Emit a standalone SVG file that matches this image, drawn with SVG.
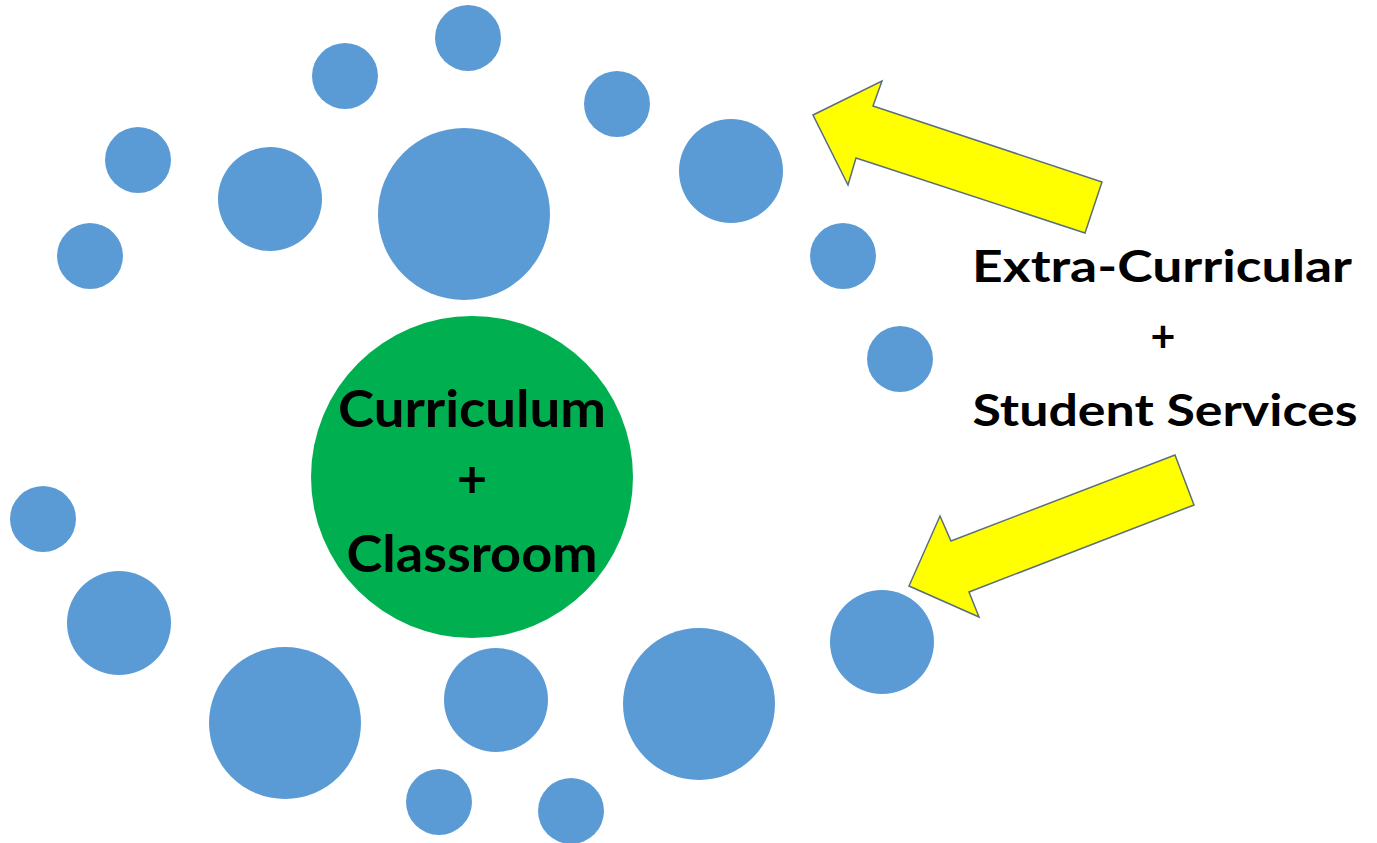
<svg xmlns="http://www.w3.org/2000/svg" width="1377" height="843" viewBox="0 0 1377 843">
<style>
.b{fill:#5B9BD5}
.arrow{fill:#FFFF00;stroke:#5A6E7E;stroke-width:1.5;stroke-linejoin:miter}
.t{font-family:Lato,"Open Sans","Liberation Sans",sans-serif;font-weight:bold;fill:#000;text-anchor:middle}
</style>
<rect width="1377" height="843" fill="#fff"/>
<g id="bubbles">
<circle id="b1" class="b" cx="468" cy="38" r="33"/>
<circle id="b2" class="b" cx="345" cy="76" r="33"/>
<circle id="b3" class="b" cx="138" cy="160" r="33"/>
<circle id="b4" class="b" cx="270" cy="199" r="52"/>
<circle id="b5" class="b" cx="464" cy="214" r="86"/>
<circle id="b6" class="b" cx="90" cy="256" r="33"/>
<circle id="b7" class="b" cx="617" cy="104" r="33"/>
<circle id="b8" class="b" cx="731" cy="171" r="52"/>
<circle id="b9" class="b" cx="843" cy="256" r="33"/>
<circle id="b10" class="b" cx="900" cy="359" r="33"/>
<circle id="b11" class="b" cx="43" cy="519" r="33"/>
<circle id="b12" class="b" cx="119" cy="623" r="52"/>
<circle id="b13" class="b" cx="285" cy="723" r="76"/>
<circle id="b14" class="b" cx="496" cy="700" r="52"/>
<circle id="b15" class="b" cx="699" cy="704" r="76"/>
<circle id="b16" class="b" cx="882" cy="642" r="52"/>
<circle id="b17" class="b" cx="439" cy="802" r="33"/>
<circle id="b18" class="b" cx="571" cy="811" r="33"/>
</g>
<g id="core">
<circle cx="472" cy="477" r="161" fill="#00B050"/>
<text class="t" x="472" y="427" font-size="52" textLength="268" lengthAdjust="spacingAndGlyphs">Curriculum</text>
<text class="t" x="472" y="497" font-size="52">+</text>
<text class="t" x="472" y="572" font-size="52" textLength="251" lengthAdjust="spacingAndGlyphs">Classroom</text>
</g>
<g id="label">
<text class="t" x="1162" y="282" font-size="43" textLength="380" lengthAdjust="spacingAndGlyphs">Extra-Curricular</text>
<text class="t" x="1163" y="352" font-size="43">+</text>
<text class="t" x="1165" y="426" font-size="43" textLength="385" lengthAdjust="spacingAndGlyphs">Student Services</text>
</g>
<g id="connectors">
<polygon class="arrow" points="813,115 882,81 873,106 1102,182 1085,233 856,158 848,185"/>
<polygon class="arrow" points="909,586 940,516 951,541 1175,455 1194,505 969,592 979,617"/>
</g>
</svg>
